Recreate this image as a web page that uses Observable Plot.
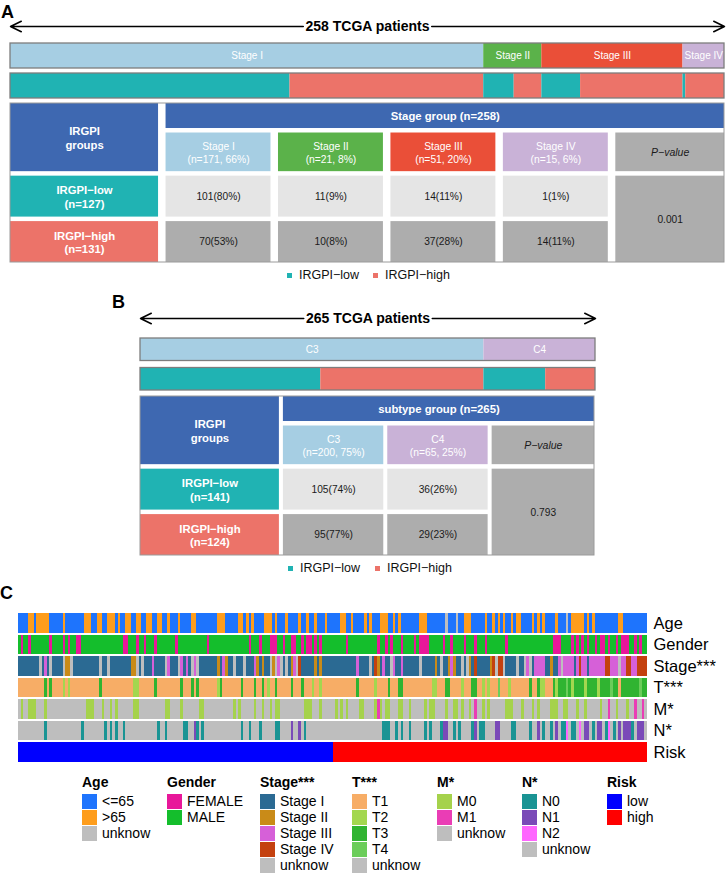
<!DOCTYPE html>
<html>
<head>
<meta charset="utf-8">
<script src="https://cdn.jsdelivr.net/npm/d3@7"></script>
<script src="https://cdn.jsdelivr.net/npm/@observablehq/plot@0.6"></script>
<style>
  html, body { margin: 0; padding: 0; background: #fff; }
  #page { position: relative; width: 726px; height: 875px; overflow: hidden; background: #fff;
          font-family: "Liberation Sans", Arial, Helvetica, sans-serif; color: #111; }
  .plabel { position: absolute; font-weight: bold; font-size: 18px; line-height: 18px; color: #000; }
  .leg { position: absolute; white-space: nowrap; }
</style>
</head>
<body>
<div id="page"></div>
<script>
// ------------------------- DATA -------------------------
// Panel A: stage groups
const stageNames = ["Stage I", "Stage II", "Stage III", "Stage IV"];
const stageLowCounts = [101, 11, 14, 1];
const stageHighCounts = [70, 10, 37, 14];
const stagePatients = 258;
const stagePValue = "0.001";

// Panel B: subtype groups
const subtypeNames = ["C3", "C4"];
const subtypeLowCounts = [105, 36];
const subtypeHighCounts = [95, 29];
const subtypePatients = 265;
const subtypePValue = "0.793";

const groupNames = ["IRGPI−low", "IRGPI−high"];

// Panel C: clinical annotation heatmap (one character per patient column)
const heatRowNames = ["Age", "Gender", "Stage***", "T***", "M*", "N*", "Risk"];
const ageCodes = [
  "bbbboobooo","oobbbbbobb","bbbbbooobb","oobbooobob","boobboobbo","obboobbobb",
  "bobbbboobb","bbbbbbooob","bbbboobobo","bbbbooobob","bbobbbbobb","obbobbbobb",
  "bbboobbobb","bbobobbboo","obbobobbbb","bbbooobbbb","bbbubbbubb","ooobbbbbob",
  "bobobobbob","oobbbbobob","obbbbobbbu","booooobobo","bbbbbbbbbo","obbbbbbbbb"].join("");
const genderCodes = [
  "mfmmfmmmmm","mmfmmmmfmf","mmffmmmmmm","mmmmmmmmmm","ffmmmfmmfm","mmfmmmmmmm",
  "fmmmmmmmmm","mmfmmmmmmm","mmmmmmmmfm","mmfmmmfffm","mfmmffmmfm","ffmfmfmmmm",
  "mmmmmfmmmm","mmmmmmmfmm","fmfmmmfmmm","mfmffffmmm","mmfmmfmmmm","fmmmfmmmfm",
  "mmmmmmfmmm","mmmmmmmmmm","mmmmfffmmm","mfmfmfmfmm","fmffmfmmfm","fffmmfmfmm"].join("");
const stageCodes = [
  "11111111u1","31u1111u22","u111111111","1u11u11111","11122u1u11","131111u311",
  "1u3131u3u1","1111112132","11u111u111","321211u2u3","u1u123u411","1112121111",
  "1111111113","1111u14213","11u3113111","111u111112","1u1123211u","1u21411111",
  "24u44u1111","u11u3u1333","3112113u33","3313433133","333344333u","3344334444"].join("");
const tCodes = [
  "1111111111","3131111212","1111111111","1311111111","1111221111","1131111111",
  "1131113131","1111112311","1111131111","3113121131","1111311131","1121121111",
  "1111111113","1111112111","1311133111","1111111122","1113311112","1113311212",
  "1114111211","1111131132","2111323334","3233332333","3233334331","3333333433"].join("");
const mCodes = [
  "u0uu000uuu","0uuuuuuuuu","uuuuuu000u","uu0uu0u0uu","uuuu00uuuu","uuuuuu00uu",
  "uu0uuuuuu0","0uuuuuuuuu","uu0u0uuuuu","0uu0uu0u00","uuuuuuuuu0","00uuu0uuuu",
  "u0u0u0uuuu","00uuuu010u","00uuu00uu0","uuuuu0u00u","uuu0uu00u0","uu0u1uu0u0",
  "uuuuuu000u","uu0uuu0u0u","uuu000uu00","uuu0uu0uuu","uu0uu1uu0u","uu0uu1uu1u"].join("");
const nCodes = [
  "uuuuuuuuuu","0uuuuuuuuu","uuuu0uuuuu","uuu0u0u0uu","0uuuuuuuuu","uuu0uu0uuu",
  "uuu00uu10u","0uuuuuuuuu","uuuuu0uu0u","uu0uuuuu00","uuuu1uu1u0","uuuuuuuuuu",
  "uuuuuuuuuu","uuuuuuuuu0","00uu0u0uu0","uuuuu0u0uu","u011uu0u0u","uuu01u00uu",
  "uu11uuuu00","uuuuu0uu1u","0uu0u1u002","u00u2u11u0","u11u02u0u1","u1110u111u"].join("");
const riskRuns = [["low", 120], ["high", 120]];

const ageLevels = [["b", "<=65"], ["o", ">65"], ["u", "unknow"]];
const genderLevels = [["f", "FEMALE"], ["m", "MALE"]];
const stageLevels = [["1", "Stage I"], ["2", "Stage II"], ["3", "Stage III"], ["4", "Stage IV"], ["u", "unknow"]];
const tLevels = [["1", "T1"], ["2", "T2"], ["3", "T3"], ["4", "T4"], ["u", "unknow"]];
const mLevels = [["0", "M0"], ["1", "M1"], ["u", "unknow"]];
const nLevels = [["0", "N0"], ["1", "N1"], ["2", "N2"], ["u", "unknow"]];
const riskLevels = [["low", "low"], ["high", "high"]];

// ------------------------- STYLE -------------------------
const FONT = '"Liberation Sans", Arial, Helvetica, sans-serif';
const groupColors = ["#20B3B3", "#EC7369"];
const stageFills = ["#A6CEE3", "#5BB24A", "#EA4F38", "#C9B2D7"];
const subtypeFills = ["#A6CEE3", "#C9B2D7"];
const headerBlue = "#3E68B1";
const lightGray = "#E5E5E5";
const darkGray = "#ADADAD";
const heatPalette = {
  "Age": {"<=65": "#1E74FD", ">65": "#FE9D1C", "unknow": "#BEBEBE"},
  "Gender": {"FEMALE": "#E8179A", "MALE": "#14BE2C"},
  "Stage***": {"Stage I": "#2B6A93", "Stage II": "#C98B18", "Stage III": "#D660D8", "Stage IV": "#C4410F", "unknow": "#BEBEBE"},
  "T***": {"T1": "#F7AD66", "T2": "#A3D74F", "T3": "#30B431", "T4": "#6BCD5A", "unknow": "#BEBEBE"},
  "M*": {"M0": "#A5D24C", "M1": "#EA3DB5", "unknow": "#BEBEBE"},
  "N*": {"N0": "#1A9494", "N1": "#7A4AB8", "N2": "#FF66FF", "unknow": "#BEBEBE"},
  "Risk": {"low": "#0000FF", "high": "#FF0000"}
};

// ------------------------- HELPERS -------------------------
const page = document.getElementById("page");
function place(node, top, left = 0) {
  node.style.position = "absolute";
  node.style.top = top + "px";
  node.style.left = left + "px";
  page.appendChild(node);
  return node;
}
function div(cls, text, css) {
  const d = document.createElement("div");
  if (cls) d.className = cls;
  if (text != null) d.textContent = text;
  if (css) d.style.cssText = css;
  return d;
}
const pct = (v, n) => Math.round(100 * v / n);
const baseStyle = {fontFamily: FONT, background: "transparent", color: "#000"};
const measureCtx = document.createElement("canvas").getContext("2d");
function textWidth(str, font) { measureCtx.font = font; return measureCtx.measureText(str).width; }

function arrowPlot(total, mLeft, mRight, label) {
  const pxPerUnit = (726 - mLeft - mRight) / total;
  const half = (textWidth(label, 'bold 14px "Liberation Sans", Arial') / 2 + 2) / pxPerUnit;
  return Plot.plot({
    width: 726, height: 24, margin: 0, marginLeft: mLeft, marginRight: mRight,
    style: baseStyle,
    x: {domain: [0, total], axis: null},
    y: {domain: [0, 1], axis: null},
    marks: [
      Plot.arrow([{a: total / 2 - half, b: 0}, {a: total / 2 + half, b: total}], {
        x1: "a", x2: "b", y1: 0.5, y2: 0.5, stroke: "black", strokeWidth: 1.5,
        headLength: 12, headAngle: 52
      }),
      Plot.text([label], {x: total / 2, y: 0.5, text: d => d, fontSize: 14, fontWeight: "bold", fill: "black"})
    ]
  });
}

function barsPlot({names, low, high, fills, total, mLeft, mRight, height, mTop, mBottom, pad}) {
  const ends = Array.from(d3.cumsum(names.map((_, i) => low[i] + high[i])));
  const starts = [0, ...ends.slice(0, -1)];
  const catSegs = names.map((name, i) => ({row: "cat", name, x1: starts[i], x2: ends[i], fill: fills[i]}));
  const grpSegs = names.flatMap((name, i) => [
    {row: "grp", x1: starts[i], x2: starts[i] + low[i], fill: groupColors[0]},
    {row: "grp", x1: starts[i] + low[i], x2: ends[i], fill: groupColors[1]}
  ]);
  return Plot.plot({
    width: 726, height, marginTop: mTop, marginBottom: mBottom, marginLeft: mLeft, marginRight: mRight,
    style: baseStyle,
    x: {domain: [0, total], axis: null},
    y: {domain: ["cat", "grp"], paddingInner: pad, paddingOuter: 0, round: false, axis: null},
    color: {type: "identity"},
    marks: [
      Plot.barX([...catSegs, ...grpSegs], {x1: "x1", x2: "x2", y: "row", fill: "fill"}),
      Plot.barX(["cat", "grp"], {x1: 0, x2: total, y: d => d, fill: "none", stroke: "#7d7d7d", strokeWidth: 1.3}),
      Plot.text(catSegs, {x: d => (d.x1 + d.x2) / 2, y: "row", text: "name", fill: "white", fontSize: 10})
    ]
  });
}

function makeTable({names, fills, low, high, pValue, title, total, mLeft, mRight, gapX, gapY}) {
  const n = names.length;
  const colW = [1.35].concat(names.map(() => 1), [1]);
  const rowW = [0.6, 0.95, 1, 0.95];
  const W = d3.sum(colW), H = d3.sum(rowW);
  const cx = [0, ...d3.cumsum(colW)], cy = [0, ...d3.cumsum(rowW)];
  const innerW = 726 - mLeft - mRight, innerH = 159;
  const gx = gapX / 2 * W / innerW, gy = gapY / 2 * H / innerH;
  const cell = (c0, c1, r0, r1, o) => Object.assign({
    x1: cx[c0] + (c0 > 0 ? gx : 0), x2: cx[c1] - (c1 < colW.length ? gx : 0),
    y1: cy[r0] + (r0 > 0 ? gy : 0), y2: cy[r1] - (r1 < rowW.length ? gy : 0)
  }, o);
  const lowN = d3.sum(low), highN = d3.sum(high);
  const cells = [
    cell(0, 1, 0, 2, {fill: headerBlue, text: "IRGPI\ngroups", kind: "bold"}),
    cell(1, n + 2, 0, 1, {fill: headerBlue, text: title, kind: "bold"}),
    ...names.map((nm, k) => cell(k + 1, k + 2, 1, 2, {
      fill: fills[k], text: `${nm}\n(n=${low[k] + high[k]}, ${pct(low[k] + high[k], total)}%)`, kind: "sub"})),
    cell(n + 1, n + 2, 1, 2, {fill: darkGray, text: "P−value", kind: "italic"}),
    cell(0, 1, 2, 3, {fill: groupColors[0], text: `${groupNames[0]}\n(n=${lowN})`, kind: "bold"}),
    cell(0, 1, 3, 4, {fill: groupColors[1], text: `${groupNames[1]}\n(n=${highN})`, kind: "bold"}),
    ...low.map((v, k) => cell(k + 1, k + 2, 2, 3, {fill: lightGray, text: `${v}(${pct(v, lowN)}%)`, kind: "value"})),
    ...high.map((v, k) => cell(k + 1, k + 2, 3, 4, {fill: darkGray, text: `${v}(${pct(v, highN)}%)`, kind: "value"})),
    cell(n + 1, n + 2, 2, 4, {fill: darkGray, text: pValue, kind: "value"})
  ];
  const tx = d => (d.x1 + d.x2) / 2, ty = d => (d.y1 + d.y2) / 2;
  const textOf = (kind, opts) => Plot.text(cells.filter(d => d.kind === kind), {x: tx, y: ty, text: "text", ...opts});
  return Plot.plot({
    width: 726, height: 161, marginTop: 1, marginBottom: 1, marginLeft: mLeft, marginRight: mRight,
    style: baseStyle,
    x: {domain: [0, W], axis: null},
    y: {domain: [0, H], range: [1, 160], axis: null},
    color: {type: "identity"},
    marks: [
      Plot.rect(cells, {x1: "x1", x2: "x2", y1: "y1", y2: "y2", fill: "fill"}),
      Plot.rect([0], {x1: 0, x2: W, y1: 0, y2: H, fill: "none", stroke: "#9a9a9a", strokeWidth: 1}),
      textOf("bold", {fill: "white", fontWeight: "bold", fontSize: 11.3, lineHeight: 1.2}),
      textOf("sub", {fill: "white", fontSize: 10.3, lineHeight: 1.25}),
      textOf("value", {fill: "#1a1a1a", fontSize: 10.2}),
      textOf("italic", {fill: "#1a1a1a", fontSize: 10.5, fontStyle: "italic"})
    ]
  });
}

function groupLegend(top, xs) {
  groupNames.forEach((name, i) => {
    place(div(null, null, `width:5px;height:5px;background:${groupColors[i]}`), top + 5, xs[i]);
    place(div("leg", name, "font-size:12.5px;line-height:15px;"), top, xs[i] + 12);
  });
}

// ------------------------- PANEL A -------------------------
place(div("plabel", "A"), 2.5, 1);
place(arrowPlot(stagePatients, 10, 2, `${stagePatients} TCGA patients`), 14);
place(barsPlot({names: stageNames, low: stageLowCounts, high: stageHighCounts, fills: stageFills,
  total: stagePatients, mLeft: 10, mRight: 2, height: 62, mTop: 3, mBottom: 4, pad: 1 / 6}), 40);
place(makeTable({names: stageNames, fills: stageFills, low: stageLowCounts, high: stageHighCounts,
  pValue: stagePValue, title: `Stage group (n=${stagePatients})`, total: stagePatients,
  mLeft: 10, mRight: 2, gapX: 7.5, gapY: 4.5}), 102);
groupLegend(268, [287, 373]);

// ------------------------- PANEL B -------------------------
place(div("plabel", "B"), 293, 112);
place(arrowPlot(subtypePatients, 140, 131, `${subtypePatients} TCGA patients`), 306);
place(barsPlot({names: subtypeNames, low: subtypeLowCounts, high: subtypeHighCounts, fills: subtypeFills,
  total: subtypePatients, mLeft: 140, mRight: 131, height: 58, mTop: 3, mBottom: 3, pad: 0.237}), 335);
place(makeTable({names: subtypeNames, fills: subtypeFills, low: subtypeLowCounts, high: subtypeHighCounts,
  pValue: subtypePValue, title: `subtype group (n=${subtypePatients})`, total: subtypePatients,
  mLeft: 140, mRight: 132, gapX: 4, gapY: 4.5}), 395);
groupLegend(561, [288, 375]);

// ------------------------- PANEL C -------------------------
place(div("plabel", "C"), 584, 0);
const heatRows = [
  {name: "Age", codes: ageCodes, levels: ageLevels},
  {name: "Gender", codes: genderCodes, levels: genderLevels},
  {name: "Stage***", codes: stageCodes, levels: stageLevels},
  {name: "T***", codes: tCodes, levels: tLevels},
  {name: "M*", codes: mCodes, levels: mLevels},
  {name: "N*", codes: nCodes, levels: nLevels}
];
const N = ageCodes.length;
const heatData = [];
for (const r of heatRows) {
  const lv = new Map(r.levels);
  let s = 0;
  for (let i = 1; i <= r.codes.length; i++) {
    if (i === r.codes.length || r.codes[i] !== r.codes[s]) {
      heatData.push({row: r.name, x1: s, x2: i, fill: heatPalette[r.name][lv.get(r.codes[s])]});
      s = i;
    }
  }
}
{
  let acc = 0;
  for (const [lv, cnt] of riskRuns) {
    heatData.push({row: "Risk", x1: acc, x2: acc + cnt, fill: heatPalette.Risk[lv]});
    acc += cnt;
  }
}
place(Plot.plot({
  width: 726, height: 170, marginTop: 13, marginBottom: 8, marginLeft: 18, marginRight: 79,
  style: {...baseStyle, fontSize: "16.5px"},
  x: {domain: [0, N], axis: null},
  y: {domain: heatRowNames, paddingInner: 0.093, paddingOuter: 0, round: false,
      axis: "right", tickSize: 0, tickPadding: 6, label: null},
  color: {type: "identity"},
  marks: [
    Plot.barX(heatData, {x1: "x1", x2: "x2", y: "row", fill: "fill", shapeRendering: "crispEdges"})
  ]
}), 600);

// Legend for panel C
const legendLevels = [ageLevels, genderLevels, stageLevels, tLevels, mLevels, nLevels, riskLevels];
const legendX = [82, 167, 260, 352, 437, 522, 607];
heatRowNames.forEach((title, g) => {
  place(div("leg", title, "font-size:14px;line-height:16px;font-weight:bold;color:#000;"), 774, legendX[g]);
  legendLevels[g].forEach(([code, label], i) => {
    place(div(null, null, `width:15px;height:15px;background:${heatPalette[title][label]}`), 794 + 16 * i, legendX[g]);
    place(div("leg", label, "font-size:14px;line-height:15px;color:#000;"), 794 + 16 * i, legendX[g] + 20);
  });
});
</script>
</body>
</html>
